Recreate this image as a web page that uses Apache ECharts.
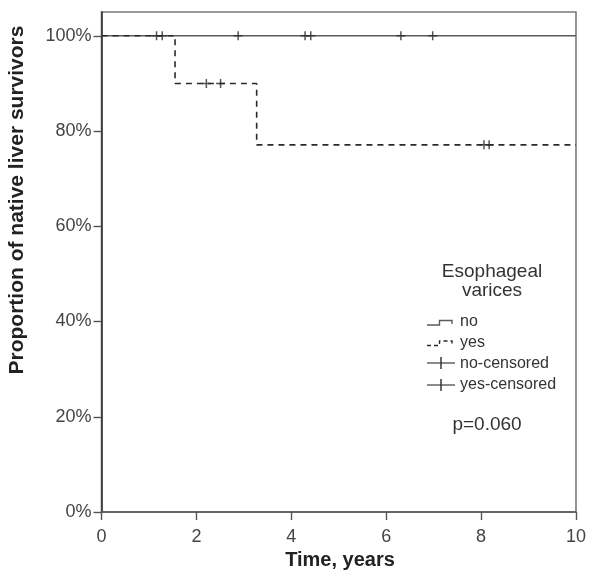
<!DOCTYPE html>
<html>
<head>
<meta charset="utf-8">
<script src="https://cdn.jsdelivr.net/npm/echarts@6/dist/echarts.min.js"></script>
<style>
  html, body { margin: 0; padding: 0; background: #fff; }
  #chart { width: 589px; height: 580px; }
</style>
</head>
<body>
<div id="chart"></div>
<script>
// Kaplan–Meier steps: time of each change (years) and survival (%) from then on
const noTimes = [0, 10];
const noSurvival = [100, 100];
const yesTimes = [0, 1.55, 3.27, 10];
const yesSurvival = [100, 90, 77.1, 77.1];

// Censored observations
const noCensoredTimes = [1.16, 1.28, 2.88, 4.29, 4.41, 6.31, 6.98];
const noCensoredSurvival = [100, 100, 100, 100, 100, 100, 100];
const yesCensoredTimes = [2.21, 2.51, 8.06, 8.17];
const yesCensoredSurvival = [90, 90, 77.1, 77.1];

// Axis ticks
const xTicks = [0, 2, 4, 6, 8, 10];
const yTicks = [0, 20, 40, 60, 80, 100];

const legendTitle = ['Esophageal', 'varices'];
const legendLabels = ['no', 'yes', 'no-censored', 'yes-censored'];
const pValueText = 'p=0.060';

const pairs = (xs, ys) => xs.map((x, i) => [x, ys[i]]);

const plus = 'path://M4,0h1.6v4h4v1.6h-4v4h-1.6v-4h-4v-1.6h4z';
const lineDark = '#2a2a2a';
const lineSolid = '#5a5a5a';
const textGrey = '#444';

const chart = echarts.init(document.getElementById('chart'), null, { renderer: 'canvas' });

// Legend glyphs: small step shapes and censor ticks
const lx = 427, ly0 = 325, lstep = 20.5;
function stepShape(y, dashed) {
  return {
    type: 'polyline',
    shape: { points: [[lx, y], [lx + 12.5, y], [lx + 12.5, y - 4.5], [lx + 25, y - 4.5], [lx + 25, y - 1]] },
    style: { stroke: dashed ? lineDark : lineSolid, lineWidth: 1.4, fill: null, lineDash: dashed ? [4, 3] : null }
  };
}
function censorShape(y) {
  return [
    { type: 'line', shape: { x1: lx, y1: y, x2: lx + 28, y2: y }, style: { stroke: lineSolid, lineWidth: 1.4 } },
    { type: 'line', shape: { x1: lx + 14, y1: y - 6, x2: lx + 14, y2: y + 6 }, style: { stroke: lineDark, lineWidth: 1.4 } }
  ];
}
const legendGraphics = [
  stepShape(ly0, false),
  stepShape(ly0 + lstep, true),
  ...censorShape(ly0 + 2 * lstep - 3),
  ...censorShape(ly0 + 3 * lstep - 1.5),
  ...legendLabels.map((t, i) => ({
    type: 'text',
    style: {
      text: t, x: 460, y: 322 + i * 20.7, fill: '#333',
      font: '16px "Liberation Sans", Arial, sans-serif', align: 'left', verticalAlign: 'middle'
    }
  })),
  ...legendTitle.map((t, i) => ({
    type: 'text',
    style: {
      text: t, x: 492, y: 272 + i * 18.5, fill: '#333',
      font: '19px "Liberation Sans", Arial, sans-serif', align: 'center', verticalAlign: 'middle'
    }
  })),
  {
    type: 'text',
    style: {
      text: pValueText, x: 487, y: 425, fill: '#333',
      font: '19px "Liberation Sans", Arial, sans-serif', align: 'center', verticalAlign: 'middle'
    }
  },
  {
    type: 'text',
    style: {
      text: 'Time, years', x: 340, y: 560, fill: '#222',
      font: 'bold 20px "Liberation Sans", Arial, sans-serif', align: 'center', verticalAlign: 'middle'
    }
  },
  {
    type: 'text',
    x: 17.5, y: 200, rotation: Math.PI / 2,
    style: {
      text: 'Proportion of native liver survivors', x: 0, y: 0, fill: '#222',
      font: 'bold 21px "Liberation Sans", Arial, sans-serif', align: 'center', verticalAlign: 'middle'
    }
  }
];

chart.setOption({
  animation: false,
  backgroundColor: '#fff',
  grid: {
    left: 101.5, right: 11, top: 12, bottom: 68,
    show: true, borderColor: '#7a7a7a', borderWidth: 1.6, backgroundColor: 'transparent'
  },
  xAxis: {
    type: 'value', min: 0, max: 10, interval: 2,
    splitLine: { show: false },
    axisLine: { onZero: false, lineStyle: { color: '#555', width: 1.6 } },
    axisTick: { show: true, length: 8, lineStyle: { color: '#555', width: 1.4 } },
    axisLabel: {
      margin: 16, color: textGrey, fontSize: 18,
      fontFamily: '"Liberation Sans", Arial, sans-serif',
      customValues: xTicks
    }
  },
  yAxis: {
    type: 'value', min: 0, max: 105, interval: 20,
    splitLine: { show: false },
    axisLine: { onZero: false, lineStyle: { color: '#333', width: 1.6 } },
    axisTick: { show: true, length: 8, customValues: yTicks, lineStyle: { color: '#555', width: 1.4 } },
    axisLabel: {
      margin: 10, color: textGrey, fontSize: 18,
      fontFamily: '"Liberation Sans", Arial, sans-serif',
      customValues: yTicks,
      formatter: v => (yTicks.includes(v) ? v + '%' : '')
    }
  },
  series: [
    {
      name: 'no', type: 'line', step: 'end', showSymbol: false,
      data: pairs(noTimes, noSurvival),
      lineStyle: { color: lineSolid, width: 1.6 }, z: 2
    },
    {
      name: 'yes', type: 'line', step: 'end', showSymbol: false,
      data: pairs(yesTimes, yesSurvival),
      lineStyle: { color: lineDark, width: 1.6, type: [6, 5] }, z: 3
    },
    {
      name: 'no-censored', type: 'scatter', symbol: plus, symbolSize: 9,
      data: pairs(noCensoredTimes, noCensoredSurvival),
      itemStyle: { color: lineDark }, z: 4
    },
    {
      name: 'yes-censored', type: 'scatter', symbol: plus, symbolSize: 9,
      data: pairs(yesCensoredTimes, yesCensoredSurvival),
      itemStyle: { color: lineDark }, z: 4
    }
  ],
  graphic: legendGraphics
});
</script>
</body>
</html>
